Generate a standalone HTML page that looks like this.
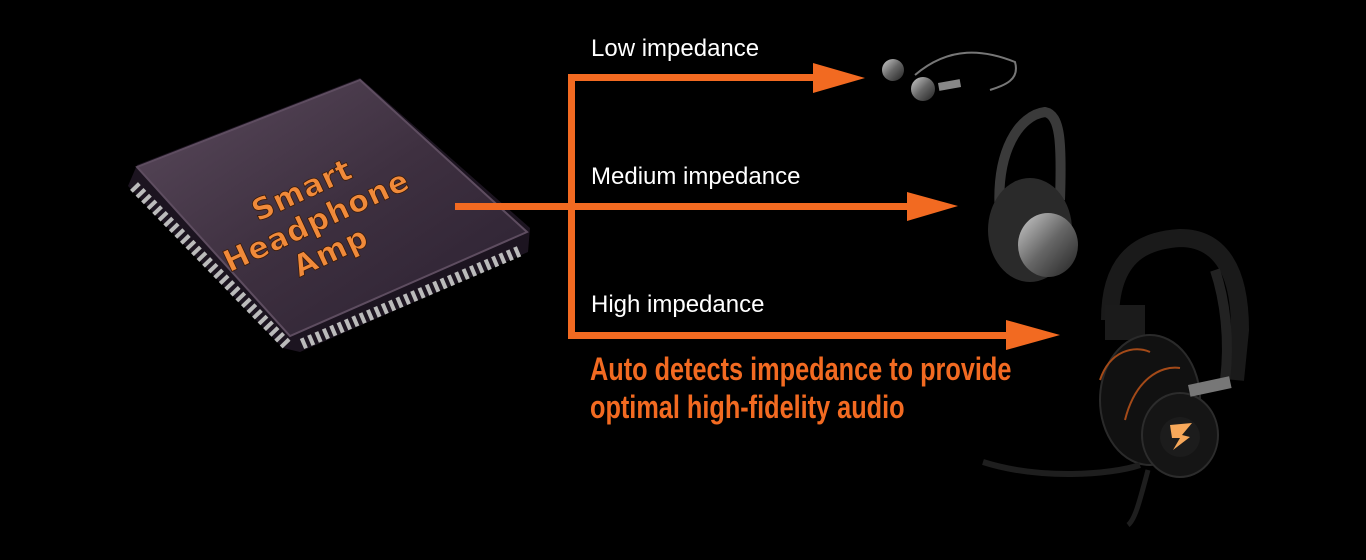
<!DOCTYPE html>
<html><head><meta charset="utf-8"><style>
html,body{margin:0;padding:0;background:#000;width:1366px;height:560px;overflow:hidden;position:relative}
.lbl{position:absolute;color:#fff;font-family:"Liberation Sans",sans-serif;font-size:24px;white-space:nowrap}
.big{position:absolute;left:590px;color:#f26a21;font-family:"Liberation Sans Narrow","Liberation Sans",sans-serif;font-weight:bold;font-size:32px;white-space:nowrap;transform-origin:0 0;transform:scaleX(0.79)}
</style></head><body>
<svg width="1366" height="560" style="position:absolute;left:0;top:0">
<defs>
<linearGradient id="chip" x1="0" y1="0" x2="1" y2="1">
<stop offset="0" stop-color="#5a4a5c"/><stop offset="0.5" stop-color="#3e3040"/><stop offset="1" stop-color="#2a2030"/>
</linearGradient>
<linearGradient id="met" x1="0" y1="0" x2="1" y2="1">
<stop offset="0" stop-color="#ccc"/><stop offset="0.5" stop-color="#666"/><stop offset="1" stop-color="#222"/>
</linearGradient>
</defs>
<!-- chip -->
<polygon points="360,78 530,228 528,252 300,352 283,348 128,186 137,165" fill="#1c1420"/>
<line x1="134" y1="186" x2="288" y2="346" stroke="#bbb" stroke-width="11" stroke-dasharray="4,4"/>
<line x1="302" y1="344" x2="522" y2="250" stroke="#bbb" stroke-width="11" stroke-dasharray="4,4"/>
<polygon points="360,80 527,232 290,336 137,167" fill="url(#chip)" stroke="#5e4d60" stroke-width="2"/>
<text transform="translate(330,250) rotate(-25)" text-anchor="middle" font-family="DejaVu Sans" font-weight="bold" font-size="30" fill="#f08a3a" stroke="#3a1a08" stroke-width="0.8" letter-spacing="1">
<tspan x="0" y="-56">Smart</tspan><tspan x="0" y="-22">Headphone</tspan><tspan x="0" y="12">Amp</tspan></text>
<!-- connectors -->
<g fill="#f26a21">
<rect x="455" y="203" width="117" height="7"/>
<rect x="568" y="74" width="7" height="265"/>
<rect x="568" y="74" width="250" height="7"/>
<polygon points="813,63 865,78 813,93"/>
<rect x="568" y="203" width="342" height="7"/>
<polygon points="907,192 958,206 907,221"/>
<rect x="568" y="332" width="442" height="7"/>
<polygon points="1006,320 1060,335 1006,350"/>
</g>
<!-- earbuds -->
<path d="M915,75 C950,45 985,50 1015,62 C1020,80 1005,85 990,90" stroke="#777" stroke-width="2" fill="none"/>
<circle cx="893" cy="70" r="11" fill="url(#met)"/>
<circle cx="923" cy="89" r="12" fill="url(#met)"/>
<rect x="938" y="83" width="22" height="8" fill="#888" transform="rotate(-10 938 83)"/>
<!-- medium headphone -->
<path d="M1000,215 C995,150 1020,115 1045,112 C1060,115 1062,140 1060,200" stroke="#3a3a3a" stroke-width="10" fill="none"/>
<ellipse cx="1030" cy="230" rx="42" ry="52" fill="#2a2a2a"/>
<ellipse cx="1048" cy="245" rx="30" ry="32" fill="url(#met)"/>
<!-- big headset -->
<path d="M1110,320 C1110,250 1150,240 1180,238 C1220,238 1240,270 1240,330 L1235,380" stroke="#1a1a1a" stroke-width="18" fill="none"/>
<path d="M1215,270 C1225,300 1230,340 1225,380" stroke="#222" stroke-width="10" fill="none"/>
<rect x="1105" y="305" width="40" height="35" fill="#1b1b1b"/>
<ellipse cx="1150" cy="400" rx="50" ry="65" fill="#111" stroke="#2a2a2a" stroke-width="2"/>
<path d="M1100,380 C1110,350 1135,345 1150,352" stroke="#a44a18" stroke-width="2" fill="none"/>
<path d="M1125,420 C1135,380 1160,365 1180,368" stroke="#a44a18" stroke-width="2" fill="none"/>
<ellipse cx="1180" cy="435" rx="38" ry="42" fill="#151515" stroke="#2c2c2c" stroke-width="2"/>
<circle cx="1180" cy="437" r="20" fill="#1c1c1c"/>
<polygon points="1170,425 1192,423 1182,435 1190,437 1173,450 1180,438 1172,438" fill="#f7a85a"/>
<rect x="1188" y="385" width="42" height="12" fill="#777" transform="rotate(-12 1188 385)"/>
<path d="M983,462 C1040,480 1110,475 1140,465" stroke="#1e1e1e" stroke-width="6" fill="none"/>
<path d="M1148,470 C1140,500 1135,520 1128,525" stroke="#1e1e1e" stroke-width="5" fill="none"/>
</svg>
<div class="lbl" style="left:591px;top:35px">Low impedance</div>
<div class="lbl" style="left:591px;top:163px">Medium impedance</div>
<div class="lbl" style="left:591px;top:291px">High impedance</div>
<div class="big" style="top:351px">Auto detects impedance to provide</div>
<div class="big" style="top:389px">optimal high-fidelity audio</div>
</body></html>
